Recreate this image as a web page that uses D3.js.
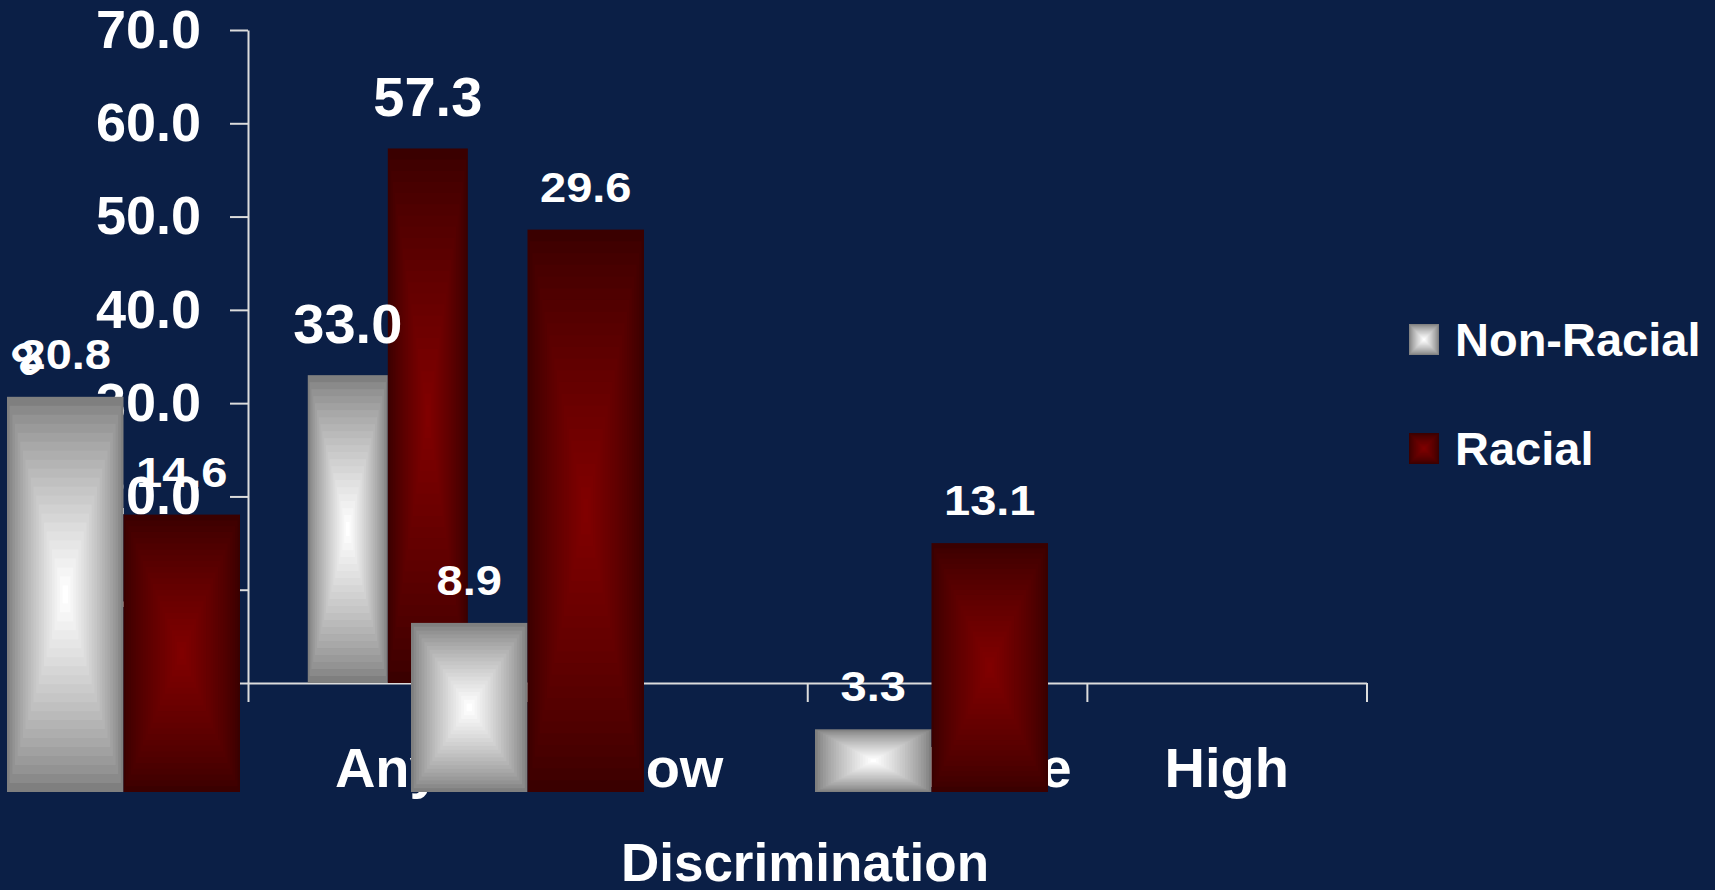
<!DOCTYPE html>
<html lang="en">
<head>
    <meta charset="UTF-8">
    <script src="https://cdn.jsdelivr.net/npm/d3@7"></script>
    <title>Discrimination</title>
    <style>
        * {
            margin: 0;
            padding: 0;
            box-sizing: border-box;
        }

        body {
            background: #0b1f46;
            overflow: hidden;
        }

        svg text {
            font-family: "Liberation Sans", Arial, sans-serif;
            font-weight: bold;
            fill: white;
        }
    </style>
</head>
<body>
    <svg width="1715" height="890"></svg>
    <script>
        let categories = ['Any', 'Low', 'Moderate', 'High']
        let series = ['Non-Racial', 'Racial']
        let nonRacial = [33.0, 20.8, 8.9, 3.3]
        let racial = [57.3, 14.6, 29.6, 13.1]
        let yTicks = [0, 10, 20, 30, 40, 50, 60, 70]

        let colors = {
            'Non-Racial': ['#7f7f7f', '#ffffff', 22],
            'Racial': ['#3a0000', '#800000', 24]
        }

        let svg = d3.select('svg')
        svg.append('rect').attr('width', 1715).attr('height', 890).attr('fill', '#0b1f46')

        // main plot scales
        let yScale = d3.scaleLinear().domain([0, 70]).range([683, 30])
        let xScale = d3.scaleBand()
            .domain(categories)
            .range([248, 1366.5])
            .paddingInner(0.4275)
            .paddingOuter(0.21375)
        let xSub = d3.scaleBand().domain(series).range([0, xScale.bandwidth()])
        let xEdges = d3.scaleLinear().domain([0, categories.length]).range([248, 1366.5])

        // the shifted copy of the other groups
        let rest = categories.slice(1)
        let xShift = d3.scaleBand().domain(rest).range([7, 1048]).paddingInner(0.4233)
        let xShiftSub = d3.scaleBand().domain(series).range([0, xShift.bandwidth()])
        let yShift = d3.scaleLinear().domain([0, 30]).range([792, 222])

        // y axis
        let yAxis = svg.append('g')
            .attr('transform', 'translate(248, 0)')
            .call(d3.axisLeft(yScale).tickValues(yTicks).tickFormat(d3.format('.1f'))
                .tickSize(18).tickSizeOuter(0).tickPadding(29))
        yAxis.selectAll('text').style('font-size', '54px')

        // x axis: ticks on the category edges
        svg.append('g')
            .attr('transform', 'translate(0, 683)')
            .call(d3.axisBottom(xEdges).tickValues(d3.range(categories.length + 1))
                .tickFormat('').tickSize(19).tickSizeOuter(0))

        let xLabels = svg.append('g')
            .attr('transform', 'translate(0, 683)')
            .call(d3.axisBottom(xScale).tickSize(0).tickPadding(64))
        xLabels.select('.domain').remove()
        xLabels.selectAll('text').style('font-size', '56px')

        svg.selectAll('.domain, .tick line').attr('stroke', '#dcdcdc').attr('stroke-width', 2)

        // rectangular "from centre" fill made of nested rects
        function boxBar(sel, s) {
            let [edge, centre, steps] = colors[s]
            let col = d3.interpolateRgb(edge, centre)
            let b = sel.datum()
            sel.selectAll('rect')
                .data(d3.range(steps))
                .join('rect')
                .attr('x', k => b.x + b.w * k / steps / 2)
                .attr('y', k => b.y + b.h * k / steps / 2)
                .attr('width', k => b.w * (1 - k / steps))
                .attr('height', k => b.h * (1 - k / steps))
                .attr('fill', k => col(Math.pow(k / (steps - 1), 0.8)))
        }

        function bars(rows, x, sub, y, size, dy, stretch) {
            let g = svg.append('g')
            rows.forEach(r => {
                let b = {
                    x: x(r.cat) + sub(r.s),
                    w: sub.bandwidth(),
                    y: y(r.v),
                    h: y(0) - y(r.v)
                }
                g.append('g').datum(b).call(sel => boxBar(sel, r.s))
            })
            rows.forEach(r => {
                g.append('text')
                    .attr('transform', `translate(${x(r.cat) + sub(r.s) + sub.bandwidth() / 2}, ${y(r.v) - dy}) scale(${stretch}, 1)`)
                    .attr('text-anchor', 'middle')
                    .style('font-size', size + 'px')
                    .text(r.v.toFixed(1))
            })
        }

        let rows = []
        categories.forEach((c, i) => {
            rows.push({ cat: c, s: 'Non-Racial', v: nonRacial[i] })
            rows.push({ cat: c, s: 'Racial', v: racial[i] })
        })

        bars(rows.filter(r => r.cat === 'Any'), xScale, xSub, yScale, 56, 32, 1)
        bars(rows.filter(r => r.cat !== 'Any'), xShift, xShiftSub, yShift, 42, 28, 1.12)

        // stray glyph over the first shifted label
        svg.append('text')
            .attr('transform', 'translate(36, 372) rotate(-35)')
            .attr('text-anchor', 'middle')
            .style('font-size', '46px')
            .text('8')

        // legend
        let legend = svg.append('g').attr('transform', 'translate(1409, 324)')
        series.forEach((s, i) => {
            let item = legend.append('g').attr('transform', `translate(0, ${i * 109})`)
            item.append('g').datum({ x: 0, y: 0, w: 30, h: 31 }).call(sel => boxBar(sel, s))
            item.append('text')
                .attr('x', 46)
                .attr('y', 32)
                .style('font-size', '47px')
                .text(s)
        })

        // axis title
        svg.append('text')
            .attr('x', 805)
            .attr('y', 881)
            .attr('text-anchor', 'middle')
            .style('font-size', '53px')
            .text('Discrimination')
    </script>
</body>
</html>
